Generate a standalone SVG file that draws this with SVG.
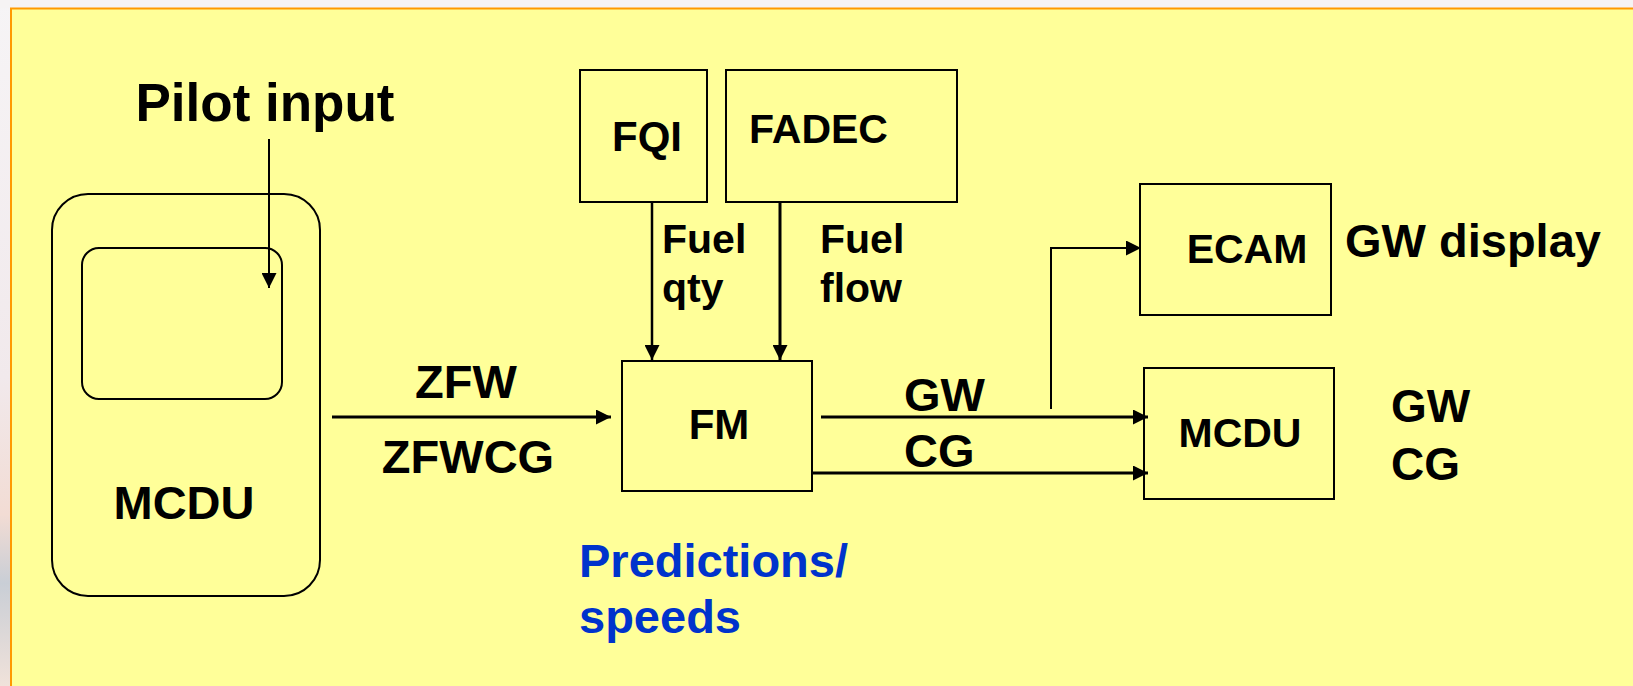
<svg xmlns="http://www.w3.org/2000/svg" width="1633" height="686" viewBox="0 0 1633 686">
<defs>
<linearGradient id="side" x1="0" y1="0" x2="0" y2="1">
<stop offset="0" stop-color="#f6f4f6"/>
<stop offset="0.55" stop-color="#f1e9ec"/>
<stop offset="0.75" stop-color="#f2dcd4"/>
<stop offset="0.85" stop-color="#c9ced6"/>
<stop offset="1" stop-color="#f0e2da"/>
</linearGradient>
<marker id="ah" markerUnits="userSpaceOnUse" markerWidth="16" markerHeight="15" refX="15" refY="7.5" orient="auto">
<path d="M0,0 L15,7.5 L0,15 z" fill="#000"/>
</marker>
<style>
.bg{fill:#ffff99}
.box{fill:none;stroke:#000;stroke-width:2}
.t{font-family:"Liberation Sans",Arial,sans-serif;font-weight:bold;fill:#000}
.blue{fill:#0033cc}
.c{stroke:#000;fill:none;marker-end:url(#ah)}
.ln{stroke:#000;fill:none}
</style>
</defs>
<rect x="0" y="0" width="1633" height="686" fill="url(#side)"/>
<rect x="0" y="0" width="1633" height="8" fill="#f6f3f4"/>
<rect class="bg" x="11" y="8" width="1622" height="678"/>
<path d="M11,686 L11,8.5 L1633,8.5" fill="none" stroke="#ff9900" stroke-width="2"/>

<g id="pilot-input"><text class="t" x="265" y="121" font-size="53" text-anchor="middle">Pilot input</text></g>

<g id="mcdu-left">
<rect class="box" x="52" y="194" width="268" height="402" rx="36" ry="36"/>
<rect class="box" x="82" y="248" width="200" height="151" rx="17" ry="17"/>
<text class="t" x="184" y="519" font-size="47" text-anchor="middle">MCDU</text>
</g>

<g id="fqi">
<rect class="box" x="580" y="70" width="127" height="132"/>
<text class="t" x="647" y="151" font-size="42" text-anchor="middle">FQI</text>
</g>

<g id="fadec">
<rect class="box" x="726" y="70" width="231" height="132"/>
<text class="t" x="749" y="143" font-size="41">FADEC</text>
</g>

<g id="fm">
<rect class="box" x="622" y="361" width="190" height="130"/>
<text class="t" x="719" y="439" font-size="42" text-anchor="middle">FM</text>
</g>

<g id="ecam">
<rect class="box" x="1140" y="184" width="191" height="131"/>
<text class="t" x="1247" y="263" font-size="41" text-anchor="middle">ECAM</text>
</g>

<g id="mcdu-right">
<rect class="box" x="1144" y="368" width="190" height="131"/>
<text class="t" x="1240" y="447" font-size="41" text-anchor="middle">MCDU</text>
</g>

<g id="connectors">
<line class="c" x1="269" y1="139" x2="269" y2="288" stroke-width="2"/>
<line class="c" x1="332" y1="417" x2="611" y2="417" stroke-width="3"/>
<line class="c" x1="652" y1="202" x2="652" y2="360" stroke-width="2.5"/>
<line class="c" x1="780" y1="202" x2="780" y2="360" stroke-width="3"/>
<line class="c" x1="821" y1="417" x2="1148" y2="417" stroke-width="3"/>
<line class="c" x1="812" y1="473" x2="1148" y2="473" stroke-width="3"/>
<polyline class="c" points="1051,409 1051,248 1141,248" stroke-width="2"/>
</g>

<g id="labels">
<text class="t" x="466" y="398" font-size="47" text-anchor="middle">ZFW</text>
<text class="t" x="468" y="473" font-size="47" text-anchor="middle">ZFWCG</text>
<text class="t" x="662" y="253" font-size="41">Fuel</text>
<text class="t" x="662" y="302" font-size="41">qty</text>
<text class="t" x="820" y="253" font-size="41">Fuel</text>
<text class="t" x="820" y="302" font-size="41">flow</text>
<text class="t" x="904" y="411" font-size="47">GW</text>
<text class="t" x="904" y="467" font-size="47">CG</text>
<text class="t" x="1345" y="257" font-size="47">GW display</text>
<text class="t" x="1391" y="422" font-size="46">GW</text>
<text class="t" x="1391" y="480" font-size="46">CG</text>
<text class="t blue" x="579" y="577" font-size="47">Predictions/</text>
<text class="t blue" x="579" y="633" font-size="47">speeds</text>
</g>
</svg>
